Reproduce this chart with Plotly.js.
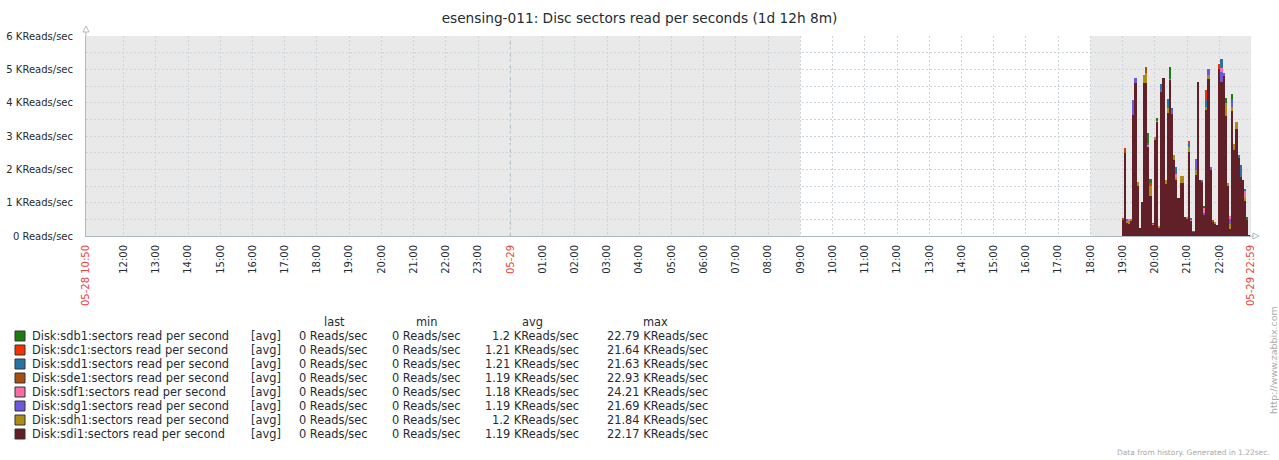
<!DOCTYPE html>
<html>
<head>
<meta charset="utf-8">
<script src="https://cdn.plot.ly/plotly-3.0.1.min.js"></script>
<style>html,body{margin:0;padding:0;background:#fff;}#chart{width:1279px;height:460px;}</style>
</head>
<body>
<div id="chart"></div>
<script>
// ---------- data ----------
const day = '2018-05-29 ';
const times = [
 '19:00','19:04','19:08','19:12','19:16','19:20','19:24','19:28','19:32','19:36','19:40','19:44','19:48','19:52','19:56',
 '20:00','20:04','20:08','20:12','20:16','20:20','20:24','20:28','20:32','20:36','20:40','20:44','20:48','20:52','20:56',
 '21:00','21:04','21:08','21:12','21:16','21:20','21:24','21:28','21:32','21:36','21:40','21:44','21:48','21:52','21:56',
 '22:00','22:04','22:08','22:12','22:16','22:20','22:24','22:28','22:32','22:36','22:40','22:44','22:48','22:52','22:56'
];
const sdb1 = [0,0,0,0,0,0,0,0,0,0, 0,0,300,100,30,0,100,0,0,0, 0,0,350,0,0,0,0,0,0,0, 0,0,0,0,0,0,0,0,60,0, 0,0,0,0,0,0,0,0,150,0, 0,150,0,0,0,0,0,0,100,0];
const sdc1 = [0,60,0,0,0,0,0,0,0,0, 0,0,0,100,0,0,0,0,0,0, 0,0,0,0,0,0,0,0,0,0, 0,100,0,30,0,0,0,0,0,300, 0,0,0,0,0,150,0,0,0,0, 0,0,0,0,0,0,0,0,0,0];
const sdd1 = [0,0,0,0,0,0,0,0,0,0, 0,0,60,0,0,0,0,0,150,0, 0,270,0,50,0,200,0,0,0,0, 0,80,60,0,0,0,0,0,0,200, 0,0,0,0,0,0,280,0,0,0, 0,100,0,0,100,350,0,60,0,0];
const sde1 = [60,90,0,0,0,0,0,0,0,0, 0,180,0,0,0,0,0,0,0,0, 0,0,0,0,0,0,0,0,0,0, 0,0,0,0,0,0,0,0,0,0, 0,0,60,0,0,0,0,0,0,0, 0,0,0,0,0,0,0,0,0,0];
const sdf1 = [0,0,0,60,0,0,0,0,0,0, 0,0,60,0,30,0,30,0,0,0, 0,0,0,0,0,120,0,0,0,0, 0,0,30,0,0,0,0,0,150,0, 0,0,0,0,0,0,100,0,0,0, 100,0,0,0,0,0,0,200,0,0];
const sdg1 = [0,0,60,0,0,450,150,0,0,0, 0,0,0,0,0,0,0,0,80,0, 0,0,0,120,0,0,0,0,0,0, 0,0,0,0,330,0,0,60,60,0, 180,100,0,0,0,0,300,100,0,0, 150,150,0,0,0,0,0,0,0,0];
const sdh1 = [0,0,60,90,60,0,0,120,0,0, 250,300,0,300,0,80,0,60,0,0, 120,150,50,0,150,60,0,220,200,0, 60,150,0,0,150,0,0,0,0,100, 120,0,0,60,0,0,0,0,400,100, 150,100,180,200,0,0,0,100,0,0];
const sdi1 = [480,2490,380,350,440,3630,4590,1500,240,1020, 4580,4590,2670,1200,330,2890,3410,240,4330,4740, 1560,3690,4670,3670,2280,1690,1140,1580,1600,570, 510,2520,450,120,1830,4620,1680,1620,630,3780, 4710,1970,420,360,330,5010,4630,4790,3590,1490, 200,3760,2580,3220,2330,1780,1680,1050,470,30];

const seriesNames = ['Disk:sdb1:sectors read per second','Disk:sdc1:sectors read per second','Disk:sdd1:sectors read per second','Disk:sde1:sectors read per second','Disk:sdf1:sectors read per second','Disk:sdg1:sectors read per second','Disk:sdh1:sectors read per second','Disk:sdi1:sectors read per second'];
const seriesColors = ['#1A7C11','#F63100','#2774A4','#A54F10','#FC6EA3','#6C59DC','#AC8C14','#611F27'];
const seriesValues = [sdb1, sdc1, sdd1, sde1, sdf1, sdg1, sdh1, sdi1];
const lastVals = ['0 Reads/sec','0 Reads/sec','0 Reads/sec','0 Reads/sec','0 Reads/sec','0 Reads/sec','0 Reads/sec','0 Reads/sec'];
const minVals  = ['0 Reads/sec','0 Reads/sec','0 Reads/sec','0 Reads/sec','0 Reads/sec','0 Reads/sec','0 Reads/sec','0 Reads/sec'];
const avgVals  = ['1.2 KReads/sec','1.21 KReads/sec','1.21 KReads/sec','1.19 KReads/sec','1.18 KReads/sec','1.19 KReads/sec','1.2 KReads/sec','1.19 KReads/sec'];
const maxVals  = ['22.79 KReads/sec','21.64 KReads/sec','21.63 KReads/sec','22.93 KReads/sec','24.21 KReads/sec','21.69 KReads/sec','21.84 KReads/sec','22.17 KReads/sec'];

const yTickVals = [0,1000,2000,3000,4000,5000,6000];
const yTickText = ['0 Reads/sec','1 KReads/sec','2 KReads/sec','3 KReads/sec','4 KReads/sec','5 KReads/sec','6 KReads/sec'];

const xTickVals = ['2018-05-28 10:50','2018-05-28 12:00','2018-05-28 13:00','2018-05-28 14:00','2018-05-28 15:00','2018-05-28 16:00','2018-05-28 17:00','2018-05-28 18:00','2018-05-28 19:00','2018-05-28 20:00','2018-05-28 21:00','2018-05-28 22:00','2018-05-28 23:00',
 '2018-05-29 00:00','2018-05-29 01:00','2018-05-29 02:00','2018-05-29 03:00','2018-05-29 04:00','2018-05-29 05:00','2018-05-29 06:00','2018-05-29 07:00','2018-05-29 08:00','2018-05-29 09:00','2018-05-29 10:00','2018-05-29 11:00','2018-05-29 12:00',
 '2018-05-29 13:00','2018-05-29 14:00','2018-05-29 15:00','2018-05-29 16:00','2018-05-29 17:00','2018-05-29 18:00','2018-05-29 19:00','2018-05-29 20:00','2018-05-29 21:00','2018-05-29 22:00','2018-05-29 22:59'];
const xTickText = ['05-28 10:50','12:00','13:00','14:00','15:00','16:00','17:00','18:00','19:00','20:00','21:00','22:00','23:00',
 '05-29','01:00','02:00','03:00','04:00','05:00','06:00','07:00','08:00','09:00','10:00','11:00','12:00',
 '13:00','14:00','15:00','16:00','17:00','18:00','19:00','20:00','21:00','22:00','05-29 22:59'];
const redTicks = ['05-28 10:50','05-29','05-29 22:59'];
const dayLines = ['2018-05-29 00:00'];

const xRange = ['2018-05-28 10:50','2018-05-29 22:59'];
const workStart = ['2018-05-29 09:00'];
const workEnd = ['2018-05-29 18:00'];

// ---------- geometry helpers ----------
const L = 86, T = 36, PW = 1165, PH = 200, B = T + PH;
const pxX = p => (p - L) / PW;
const pxY = p => (B - p) / PH;

const FONT = 'DejaVu Sans, sans-serif';
const GRID = '#ccd5d9';
const AXIS = '#acbbc2';
const NONWORK = '#e9e9e9';
const TXT = '#1f2c33';

// ---------- traces ----------
const x = times.map(t => day + t);
const traces = [];
for (let i = seriesValues.length - 1; i >= 0; i--) {
  traces.push({
    type: 'bar', x: x, y: seriesValues[i], name: seriesNames[i],
    marker: {color: seriesColors[i], line: {width: 0}},
    width: 4 * 60 * 1000, hoverinfo: 'skip', showlegend: false
  });
}

// ---------- shapes ----------
const shapes = [
  {type: 'rect', xref: 'x', yref: 'paper', x0: xRange[0], x1: workStart[0], y0: 0, y1: 1, fillcolor: NONWORK, line: {width: 0}, layer: 'below'},
  {type: 'rect', xref: 'x', yref: 'paper', x0: workEnd[0], x1: xRange[1], y0: 0, y1: 1, fillcolor: NONWORK, line: {width: 0}, layer: 'below'},
  // axis extensions + arrows
  {type: 'line', xref: 'paper', yref: 'paper', x0: 0, x1: 0, y0: 1, y1: pxY(31), line: {color: AXIS, width: 1}},
  {type: 'path', xref: 'paper', yref: 'paper', path: `M ${pxX(83)} ${pxY(32)} L ${pxX(86)} ${pxY(26)} L ${pxX(89)} ${pxY(32)} Z`, fillcolor: '#ffffff', line: {color: AXIS, width: 1}},
  {type: 'line', xref: 'paper', yref: 'paper', x0: 1, x1: pxX(1253), y0: 0, y1: 0, line: {color: AXIS, width: 1}},
  {type: 'path', xref: 'paper', yref: 'paper', path: `M ${pxX(1253)} ${pxY(233)} L ${pxX(1259)} ${pxY(236)} L ${pxX(1253)} ${pxY(239)} Z`, fillcolor: '#ffffff', line: {color: AXIS, width: 1}}
];
dayLines.forEach(d => shapes.push({type: 'line', xref: 'x', yref: 'paper', x0: d, x1: d, y0: 0, y1: 1, line: {color: '#a6b6be', width: 1, dash: '3px,3px'}, layer: 'below'}));

// ---------- annotations ----------
const ann = [];
function txt(text, px, py, anchor, size, color, extra) {
  ann.push(Object.assign({
    text: text, xref: 'paper', yref: 'paper', x: 0, y: 0,
    xshift: px - L, yshift: B - py, xanchor: anchor, yanchor: 'middle',
    showarrow: false, font: {family: FONT, size: size, color: color}
  }, extra || {}));
}
const LF = 11.4;
const headerY = 322;
txt('last', 334, headerY, 'center', LF, TXT);
txt('min', 426, headerY, 'center', LF, TXT);
txt('avg', 532, headerY, 'center', LF, TXT);
txt('max', 655, headerY, 'center', LF, TXT);
for (let i = 0; i < seriesNames.length; i++) {
  const y = 336 + i * 14;
  shapes.push({type: 'rect', xref: 'paper', yref: 'paper', x0: pxX(15), x1: pxX(25), y0: pxY(y - 5), y1: pxY(y + 5), fillcolor: seriesColors[i], line: {color: '#333333', width: 1}});
  txt(seriesNames[i], 30, y, 'left', LF, TXT);
  txt('[avg]', 249, y, 'left', LF, TXT);
  txt(lastVals[i], 369, y, 'right', LF, TXT);
  txt(minVals[i], 462, y, 'right', LF, TXT);
  txt(avgVals[i], 581, y, 'right', LF, TXT);
  txt(maxVals[i], 710, y, 'right', LF, TXT);
}
txt('http://www.zabbix.com', 1273, 360, 'center', 9.4, '#aaaaaa', {textangle: -90});
txt('Data from history. Generated in 1.22sec.', 1272, 452, 'right', 7.5, '#aaaaaa');

const tickText = xTickText.map(t => redTicks.includes(t) ? `<span style="color:#e8453c">${t}</span>` : t);

const layout = {
  width: 1279, height: 460,
  margin: {l: L, r: 1279 - L - PW, t: T, b: 460 - B, pad: 0},
  paper_bgcolor: '#ffffff', plot_bgcolor: '#ffffff',
  barmode: 'stack', bargap: 0,
  showlegend: false,
  title: {text: 'esensing-011: Disc sectors read per seconds (1d 12h 8m)', xref: 'container', x: 0.5, xanchor: 'center', yref: 'container', y: 1 - 18 / 460, yanchor: 'middle', font: {family: FONT, size: 13.7, color: TXT}},
  xaxis: {
    type: 'date', range: xRange, fixedrange: true,
    tickmode: 'array', tickvals: xTickVals, ticktext: tickText, tickangle: -90,
    tickfont: {family: FONT, size: 10, color: TXT},
    showgrid: true, gridcolor: GRID, griddash: '2px,2px', gridwidth: 1,
    showline: true, linecolor: AXIS, linewidth: 1,
    ticks: '', ticklabelstandoff: 4, zeroline: false
  },
  yaxis: {
    range: [0, 6000], fixedrange: true,
    tickmode: 'array', tickvals: yTickVals, ticktext: yTickText,
    tickfont: {family: FONT, size: 10, color: TXT},
    showgrid: true, gridcolor: GRID, griddash: '2px,2px', gridwidth: 1,
    minor: {tickmode: 'linear', tick0: 0, dtick: 500, showgrid: true, gridcolor: GRID, griddash: '2px,2px', gridwidth: 1, ticks: ''},
    showline: true, linecolor: AXIS, linewidth: 1,
    ticks: '', ticklabelstandoff: 10, zeroline: false
  },
  shapes: shapes,
  annotations: ann
};

Plotly.newPlot('chart', traces, layout, {staticPlot: true, displayModeBar: false});
</script>
</body>
</html>
